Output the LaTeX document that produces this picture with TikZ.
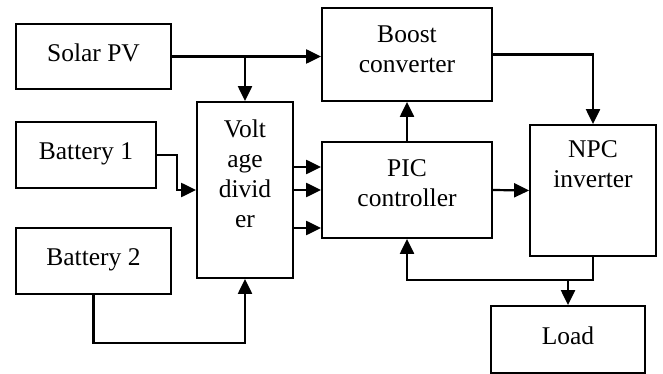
\documentclass[tikz,border=0pt]{standalone}
\usepackage{fontspec}
\setmainfont{Liberation Serif}
\usetikzlibrary{arrows.meta, positioning}
\tikzset{
  block/.style={
    rectangle, draw=black, line width=1.8pt, fill=white,
    align=center, font=\fontsize{25.5}{30}\selectfont, inner sep=0pt,
    text depth=8pt
  },
  flow/.style={-{Triangle[length=15pt, width=14pt]}, line width=2.2pt},
  wire/.style={line width=2.2pt}
}
\begin{document}
\begin{tikzpicture}[x=1pt, y=-1pt]
\useasboundingbox (0,0) rectangle (663,374);

\node[block, minimum width=155pt, minimum height=65pt] (solar) at (93.5,56.5) {Solar PV};
\node[block, minimum width=140pt, minimum height=66pt] (bat1) at (86,155) {Battery 1};
\node[block, minimum width=155pt, minimum height=66pt] (bat2) at (93.5,261) {Battery 2};
\node[block, minimum width=96pt, minimum height=176pt, text depth=33pt] (vd) at (245,190) {Volt\\age\\divid\\er};
\node[block, minimum width=170pt, minimum height=93pt, text depth=10pt] (boost) at (407,54.5) {Boost\\converter};
\node[block, minimum width=170pt, minimum height=96pt, text depth=13pt] (pic) at (407,190) {PIC\\controller};
\node[block, minimum width=126pt, minimum height=131pt, text depth=52pt] (npc) at (593,190.5) {NPC\\inverter};
\node[block, minimum width=154pt, minimum height=67pt] (load) at (568,339.5) {Load};

\draw[flow] (solar.east) -- (solar.east -| boost.west);
\draw[flow] (solar.east -| vd.north) -- (vd.north);
\draw[flow] (boost.east) -| (npc.north);
\draw[flow] (pic.north) -- (boost.south);
\draw[flow] (pic.east) -- (npc.west);
\draw[flow] (bat1.east) -- ++(20,0) |- (vd.west);
\draw[flow] (bat2.south) -- ++(0,48) -| (vd.south);

\foreach \y in {167,190,228}
  \draw[flow] (vd.east |- 0,\y) -- (pic.west |- 0,\y);

\path (npc.south) ++(0,23) coordinate (tap);
\draw[flow] (npc.south) -- (tap) -| (pic.south);
\draw[flow] (tap -| load.north) -- (load.north);
\end{tikzpicture}
\end{document}
